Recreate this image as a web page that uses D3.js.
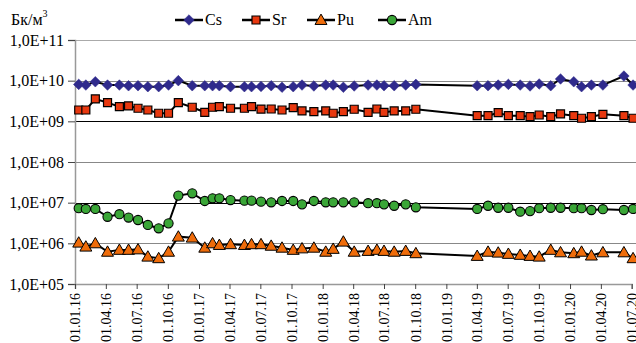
<!DOCTYPE html>
<html>
<head>
<meta charset="utf-8">
<script src="https://cdn.jsdelivr.net/npm/d3@7"></script>
<style>
  body { margin: 0; background: #fff; }
  text { font-family: "Liberation Serif", "Times New Roman", serif; }
</style>
</head>
<body>
<svg id="chart"></svg>
<script>
// sampling dates (dd.mm.yy)
const dates = [
  "12.01.16", "02.02.16", "01.03.16", "06.04.16", "11.05.16", "07.06.16", "05.07.16", "03.08.16",
  "04.09.16", "03.10.16", "01.11.16", "12.12.16", "18.01.17", "10.02.17", "02.03.17", "04.04.17",
  "15.05.17", "05.06.17", "03.07.17", "02.08.17", "03.09.17", "06.10.17", "01.11.17", "06.12.17",
  "10.01.18", "01.02.18", "03.03.18", "04.04.18", "15.05.18", "10.06.18", "01.07.18", "31.07.18",
  "03.09.18", "03.10.18",
  "02.04.19", "04.05.19", "03.06.19", "03.07.19", "07.08.19", "05.09.19", "02.10.19", "05.11.19",
  "04.12.19", "12.01.20", "04.02.20", "04.03.20", "07.04.20", "08.06.20", "05.07.20"
];

const cs = [
  8.1e9, 7.8e9, 9.4e9, 7.8e9, 7.8e9, 7.5e9, 7.5e9, 7.1e9, 7.1e9, 7.8e9, 1.0e10, 7.5e9, 7.5e9, 7.5e9,
  7.5e9, 7.1e9, 7.1e9, 7.1e9, 7.2e9, 7.5e9, 6.9e9, 7.1e9, 7.8e9, 7.4e9, 7.8e9, 7.8e9, 6.9e9, 7.4e9,
  7.8e9, 7.8e9, 7.5e9, 7.5e9, 7.8e9, 8.1e9,
  7.5e9, 7.5e9, 7.8e9, 8.1e9, 7.8e9, 7.4e9, 8.3e9, 7.5e9, 1.1e10, 9.4e9, 7.1e9, 7.8e9, 7.8e9, 1.3e10, 7.8e9
];
const sr = [
  1.9e9, 1.9e9, 3.55e9, 2.88e9, 2.3e9, 2.39e9, 2.1e9, 1.9e9, 1.58e9, 1.58e9, 2.88e9, 2.22e9, 1.67e9,
  2.22e9, 2.3e9, 2.1e9, 2.1e9, 2.3e9, 2.0e9, 2.01e9, 1.9e9, 2.17e9, 1.8e9, 1.73e9, 1.8e9, 1.58e9,
  1.73e9, 1.98e9, 1.67e9, 2.01e9, 1.67e9, 1.8e9, 1.8e9, 1.98e9,
  1.38e9, 1.38e9, 1.63e9, 1.38e9, 1.38e9, 1.3e9, 1.43e9, 1.3e9, 1.52e9, 1.38e9, 1.19e9, 1.3e9,
  1.49e9, 1.38e9, 1.19e9
];
const pu = [
  1.04e6, 8.3e5, 1.0e6, 6.2e5, 6.9e5, 6.9e5, 7.1e5, 4.7e5, 4.3e5, 6.2e5, 1.46e6, 1.38e6, 7.8e5,
  1.0e6, 9.1e5, 9.5e5, 9.1e5, 9.5e5, 9.5e5, 8.7e5, 7.8e5, 6.9e5, 7.5e5, 7.8e5, 6.2e5, 7.3e5,
  1.1e6, 6.2e5, 6.5e5, 6.9e5, 6.5e5, 6.2e5, 6.5e5, 5.7e5,
  4.9e5, 6.2e5, 5.9e5, 5.5e5, 5.2e5, 4.9e5, 4.7e5, 6.9e5, 6.0e5, 5.7e5, 6.2e5, 5.0e5, 6.0e5,
  6.0e5, 4.3e5
];
const am = [
  7.3e6, 7.0e6, 7.0e6, 4.5e6, 5.2e6, 4.3e6, 3.75e6, 2.83e6, 2.34e6, 3.1e6, 1.49e7, 1.7e7, 1.1e7,
  1.28e7, 1.28e7, 1.16e7, 1.12e7, 1.12e7, 1.06e7, 1.02e7, 1.1e7, 1.1e7, 9.1e6, 1.1e7, 1.02e7,
  1.02e7, 1.02e7, 1.02e7, 9.7e6, 9.7e6, 9.1e6, 8.4e6, 9.1e6, 7.7e6,
  7.0e6, 8.4e6, 7.5e6, 7.5e6, 6.0e6, 6.2e6, 7.3e6, 7.5e6, 7.5e6, 7.3e6, 7.3e6, 6.6e6, 6.9e6,
  6.6e6, 7.0e6
];

const yTicks = [1e5, 1e6, 1e7, 1e8, 1e9, 1e10, 1e11];
const xTickLabels = [
  "01.01.16", "01.04.16", "01.07.16", "01.10.16", "01.01.17", "01.04.17", "01.07.17", "01.10.17",
  "01.01.18", "01.04.18", "01.07.18", "01.10.18", "01.01.19", "01.04.19", "01.07.19", "01.10.19",
  "01.01.20", "01.04.20", "01.07.20"
];
const seriesNames = ["Cs", "Sr", "Pu", "Am"];

const width = 636, height = 343;
const margin = { top: 40, left: 75, bottom: 284 };
const serif = '"Liberation Serif", "Times New Roman", serif';
const parse = d3.timeParse("%d.%m.%y");

const svg = d3.select("#chart").attr("width", width).attr("height", height);

const x = d3.scaleTime()
  .domain([parse("01.01.16"), parse("01.07.20")])
  .range([margin.left, 631.7]);
const y = d3.scaleLog()
  .domain([1e5, 1e11])
  .range([margin.bottom, margin.top]);

const fmt = v => "1,0E+" + d3.format("02d")(Math.round(Math.log10(v)));

// gridlines (some render gray in the original)
const gridColor = { 1e6: "#888", 1e7: "#000", 1e8: "#888", 1e9: "#000", 1e10: "#888", 1e11: "#aaa" };
svg.append("g")
  .selectAll("line")
  .data(yTicks.slice(1))
  .join("line")
  .attr("x1", margin.left).attr("x2", width)
  .attr("y1", d => Math.round(y(d)) + 0.5).attr("y2", d => Math.round(y(d)) + 0.5)
  .attr("stroke", d => gridColor[d])
  .attr("stroke-width", 1);

// y axis
const yAxis = svg.append("g")
  .attr("font-family", serif)
  .attr("transform", `translate(${margin.left},0)`)
  .call(d3.axisLeft(y).tickValues(yTicks).tickFormat(fmt).tickSizeOuter(0).tickSize(7).tickPadding(4));
yAxis.attr("font-family", serif);
yAxis.selectAll("text").attr("font-size", 16).attr("fill", "#000");

// x axis
const xAxis = svg.append("g")
  .attr("transform", `translate(0,${margin.bottom})`)
  .call(d3.axisBottom(x).tickValues(xTickLabels.map(parse))
    .tickFormat(d3.timeFormat("%d.%m.%y")).tickSizeOuter(0).tickSize(5));
xAxis.attr("font-family", serif);
xAxis.selectAll("text")
  .attr("font-size", 14).attr("fill", "#000")
  .attr("text-anchor", "end")
  .attr("transform", "rotate(-90)")
  .attr("x", -9).attr("y", 0).attr("dy", "0.35em");

svg.selectAll(".domain").attr("stroke", "#999").attr("stroke-width", 1.5);
svg.selectAll(".tick line").attr("stroke", "#444");

const xd = dates.map(parse);
const lineGen = d3.line().x(d => x(d[0])).y(d => y(d[1]));

const styles = {
  Cs: { values: cs, fill: "#2f2a8c", stroke: "#2f2a8c", shape: "diamond" },
  Sr: { values: sr, fill: "#e8380f", stroke: "#000", shape: "square" },
  Pu: { values: pu, fill: "#ef6c0a", stroke: "#000", shape: "triangle" },
  Am: { values: am, fill: "#3aa637", stroke: "#000", shape: "circle" }
};

function marker(sel, shape, fill, stroke) {
  if (shape === "diamond") {
    sel.append("path").attr("d", d3.symbol(d3.symbolSquare, 56)()).attr("transform", "rotate(45)")
      .attr("fill", fill).attr("stroke", stroke).attr("stroke-width", 0.5);
  } else if (shape === "square") {
    sel.append("path").attr("d", d3.symbol(d3.symbolSquare, 64)())
      .attr("fill", fill).attr("stroke", stroke).attr("stroke-width", 1.2);
  } else if (shape === "triangle") {
    sel.append("path").attr("d", d3.symbol(d3.symbolTriangle, 62)()).attr("transform", "translate(0,1)")
      .attr("fill", fill).attr("stroke", stroke).attr("stroke-width", 1);
  } else {
    sel.append("circle").attr("r", 4.6)
      .attr("fill", fill).attr("stroke", stroke).attr("stroke-width", 1.1);
  }
}

seriesNames.forEach(name => {
  const s = styles[name];
  const pts = xd.map((d, i) => [d, s.values[i]]);
  svg.append("path")
    .attr("d", lineGen(pts))
    .attr("fill", "none").attr("stroke", "#000").attr("stroke-width", 2);
  svg.append("g")
    .selectAll("g")
    .data(pts)
    .join("g")
    .attr("transform", d => `translate(${x(d[0])},${y(d[1])})`)
    .each(function () { marker(d3.select(this), s.shape, s.fill, s.stroke); });
});

// legend
const legendX = [175, 242, 307, 378];
const legend = svg.append("g");
seriesNames.forEach((name, i) => {
  const s = styles[name];
  const g = legend.append("g").attr("transform", `translate(${legendX[i]},20)`);
  g.append("line").attr("x1", 0).attr("x2", 28).attr("y1", 0).attr("y2", 0)
    .attr("stroke", "#000").attr("stroke-width", 2.5);
  const m = g.append("g").attr("transform", "translate(14,0)");
  marker(m, s.shape, s.fill, s.stroke);
  g.append("text").attr("x", 30).attr("y", 5).attr("font-size", 16)
    .attr("font-family", serif).text(name);
});

// unit label
const unit = svg.append("text").attr("x", 11).attr("y", 25).attr("font-size", 16)
  .attr("font-family", serif);
unit.append("tspan").text("Бк/м");
unit.append("tspan").attr("font-size", 10).attr("dy", -8).text("3");
</script>
</body>
</html>
